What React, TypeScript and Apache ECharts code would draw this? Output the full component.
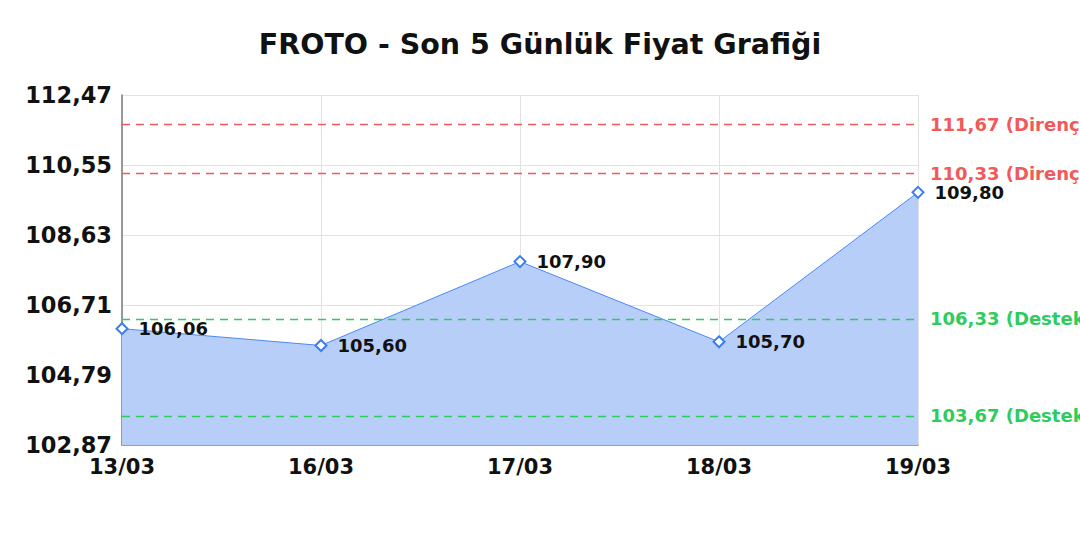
import React, { useEffect, useRef } from "react";
import * as echarts from "echarts";

const categories = ["13/03", "16/03", "17/03", "18/03", "19/03"];
const prices = [106.06, 105.6, 107.9, 105.7, 109.8];
const yTicks = [102.87, 104.79, 106.71, 108.63, 110.55, 112.47];
const resistance = [111.67, 110.33];
const support = [106.33, 103.67];
const titleText = "FROTO - Son 5 Günlük Fiyat Grafiği";

const fmt = (v: number) => v.toFixed(2).replace(".", ",");
const FONT = "DejaVu Sans";

export default function App() {
  const ref = useRef<HTMLDivElement>(null);
  useEffect(() => {
    document.body.style.margin = "0";
    document.body.style.overflow = "hidden";
    if (!ref.current) return;
    const chart = echarts.init(ref.current, undefined, { renderer: "svg" });
    const markData = [
      ...resistance.map((v) => ({
        yAxis: v,
        lineStyle: { color: "#f05a5a", type: [8, 6], width: 1.3 },
        label: { color: "#f05a5a", formatter: fmt(v) + " (Direnç)" },
      })),
      ...support.map((v) => ({
        yAxis: v,
        lineStyle: { color: "#2ecc5f", type: [8, 6], width: 1.3 },
        label: { color: "#2ecc5f", formatter: fmt(v) + " (Destek)" },
      })),
    ];
    chart.setOption({
      animation: false,
      backgroundColor: "#ffffff",
      title: {
        text: titleText,
        left: "center",
        top: 25,
        textStyle: { fontFamily: FONT, fontSize: 28.5, fontWeight: "bold", color: "#111" },
      },
      grid: { left: 122, right: 162, top: 95, bottom: 95, containLabel: false },
      xAxis: {
        type: "category",
        data: categories,
        boundaryGap: false,
        axisLine: { lineStyle: { color: "#888", width: 1.5 } },
        axisTick: { show: false },
        axisLabel: {
          fontFamily: FONT,
          fontSize: 21,
          fontWeight: "bold",
          color: "#111",
          margin: 11,
        },
        splitLine: { show: true, lineStyle: { color: "#e2e2e2", width: 1 } },
      },
      yAxis: {
        type: "value",
        min: yTicks[0],
        max: yTicks[yTicks.length - 1],
        axisLine: { show: true, lineStyle: { color: "#7a7a7a", width: 1.5 } },
        axisTick: { show: false, customValues: yTicks },
        axisLabel: {
          customValues: yTicks,
          fontFamily: FONT,
          fontSize: 22.5,
          fontWeight: "bold",
          color: "#111",
          margin: 10,
          formatter: (v: number) => fmt(v),
        },
        splitLine: { show: true, lineStyle: { color: "#e2e2e2", width: 1 } },
      },
      series: [
        {
          type: "line",
          data: prices,
          symbol: "emptyDiamond",
          symbolSize: 11,
          lineStyle: { color: "#4a8af4", width: 1 },
          itemStyle: { color: "#3b7df0", borderWidth: 2 },
          areaStyle: { color: "#b7cff8", opacity: 1 },
          label: {
            show: true,
            position: "right",
            distance: 10,
            fontFamily: FONT,
            fontSize: 18,
            fontWeight: "bold",
            color: "#111",
            formatter: (p: any) => fmt(p.value),
          },
          markLine: {
            silent: true,
            symbol: "none",
            label: {
              show: true,
              position: "end",
              distance: 12,
              fontFamily: FONT,
              fontSize: 18,
              fontWeight: "bold",
            },
            data: markData,
          },
        },
      ],
    });
    return () => chart.dispose();
  }, []);
  return <div ref={ref} style={{ width: 1080, height: 540 }} />;
}
